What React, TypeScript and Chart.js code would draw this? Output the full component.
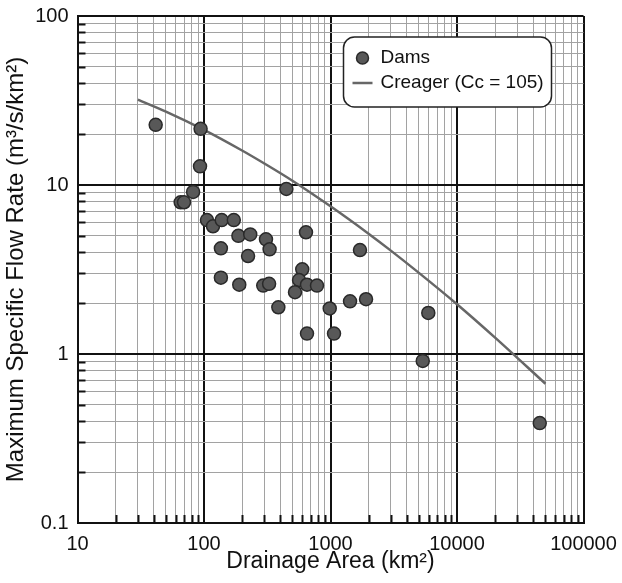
import React, { useEffect, useRef } from 'react';
import { Chart, registerables } from 'chart.js';

Chart.register(...registerables);

// Dams: drainage area (km²) and maximum specific flow rate (m³/s/km²)
const damsArea = [41.5, 94, 93, 82, 65.4, 69.5, 105.6, 117.8, 138, 172, 187, 232, 309, 330, 136, 223, 448, 640, 598, 1710, 136, 190, 294, 327, 564, 652, 782, 524, 387, 986, 1427, 652, 1066, 1910, 5930, 5360, 45100];
const damsRate = [22.7, 21.5, 12.9, 9.1, 7.9, 7.9, 6.2, 5.7, 6.2, 6.2, 5.0, 5.1, 4.77, 4.16, 4.22, 3.8, 9.47, 5.25, 3.17, 4.12, 2.83, 2.57, 2.54, 2.6, 2.74, 2.57, 2.54, 2.32, 1.89, 1.86, 2.05, 1.32, 1.32, 2.11, 1.75, 0.91, 0.39];

// Creager envelope (Cc = 105)
const creagerArea = [30, 50, 100, 200, 300, 500, 1000, 2000, 3000, 5000, 10000, 20000, 50000];
const creagerRate = [32.0, 27.2, 21.2, 16.0, 13.4, 10.6, 7.48, 5.15, 4.09, 3.02, 1.97, 1.25, 0.667];

const xDecades = [10, 100, 1000, 10000, 100000];
const xTickLabels = ['10', '100', '1000', '10000', '100000'];
const yDecades = [0.1, 1, 10, 100];
const yTickLabels = ['0.1', '1', '10', '100'];
const minorSteps = [2, 3, 4, 5, 6, 7, 8, 9];

const legendLabels = ['Dams', 'Creager (Cc = 105)'];
const xTitle = 'Drainage Area (km²)';
const yTitle = 'Maximum Specific Flow Rate (m³/s/km²)';

const FONT = '"Liberation Sans", Arial, Helvetica, sans-serif';
const POINT_FILL = '#585858';
const POINT_BORDER = '#2a2a2a';
const LINE_COLOR = '#676767';

function buildTicks(decades: number[]) {
  const out: { value: number; major: boolean }[] = [];
  decades.forEach((d, i) => {
    out.push({ value: d, major: true });
    if (i < decades.length - 1) {
      minorSteps.forEach((m) => out.push({ value: +(d * m).toPrecision(6), major: false }));
    }
  });
  return out;
}

const overlayPlugin = {
  id: 'overlay',
  beforeDatasetsDraw(chart: any) {
    const { ctx, chartArea: a, scales } = chart;
    ctx.save();
    ctx.strokeStyle = '#111';
    ctx.lineWidth = 2;
    buildTicks(xDecades).filter((t) => !t.major).forEach((t) => {
      const px = Math.round(scales.x.getPixelForValue(t.value)) + 0.5;
      ctx.beginPath();
      ctx.moveTo(px, a.bottom);
      ctx.lineTo(px, a.bottom - 8);
      ctx.stroke();
    });
    buildTicks(yDecades).filter((t) => !t.major).forEach((t) => {
      const py = Math.round(scales.y.getPixelForValue(t.value)) + 0.5;
      ctx.beginPath();
      ctx.moveTo(a.left, py);
      ctx.lineTo(a.left + 8, py);
      ctx.stroke();
    });
    ctx.restore();
  },
  afterDatasetsDraw(chart: any) {
    const { ctx, chartArea: a } = chart;
    const bx = a.left + 266;
    const by = a.top + 21;
    const bw = 208;
    const bh = 70;
    ctx.save();
    ctx.beginPath();
    ctx.roundRect(bx, by, bw, bh, 11);
    ctx.fillStyle = '#fff';
    ctx.fill();
    ctx.lineWidth = 1.5;
    ctx.strokeStyle = '#222';
    ctx.stroke();

    // Dams entry
    ctx.beginPath();
    ctx.arc(bx + 19, by + 21, 6, 0, Math.PI * 2);
    ctx.fillStyle = POINT_FILL;
    ctx.fill();
    ctx.lineWidth = 1.5;
    ctx.strokeStyle = POINT_BORDER;
    ctx.stroke();

    // Creager entry
    ctx.beginPath();
    ctx.moveTo(bx + 9, by + 46);
    ctx.lineTo(bx + 29, by + 46);
    ctx.lineWidth = 2.5;
    ctx.strokeStyle = LINE_COLOR;
    ctx.stroke();

    ctx.fillStyle = '#111';
    ctx.font = `19px ${FONT}`;
    ctx.textBaseline = 'middle';
    ctx.textAlign = 'left';
    ctx.fillText(legendLabels[0], bx + 37, by + 21);
    ctx.fillText(legendLabels[1], bx + 37, by + 46);
    ctx.restore();
  },
};

export default function App() {
  const canvasRef = useRef<HTMLCanvasElement | null>(null);

  useEffect(() => {
    const canvas = canvasRef.current;
    if (!canvas) return;
    const gridColor = (ctx: any) => (ctx.tick && ctx.tick.major ? '#111' : '#a2a2a2');
    const gridWidth = (ctx: any) => (ctx.tick && ctx.tick.major ? 2 : 1);

    const chart = new Chart(canvas, {
      type: 'scatter',
      data: {
        datasets: [
          {
            label: legendLabels[0],
            data: damsArea.map((a, i) => ({ x: a, y: damsRate[i] })),
            backgroundColor: POINT_FILL,
            borderColor: POINT_BORDER,
            borderWidth: 1.5,
            pointRadius: 6.5,
            showLine: false,
          },
          {
            label: legendLabels[1],
            data: creagerArea.map((a, i) => ({ x: a, y: creagerRate[i] })),
            borderColor: LINE_COLOR,
            backgroundColor: LINE_COLOR,
            borderWidth: 2.5,
            pointRadius: 0,
            showLine: true,
            tension: 0.4,
            cubicInterpolationMode: 'monotone',
          } as any,
        ],
      },
      options: {
        responsive: false,
        animation: false,
        devicePixelRatio: 1,
        layout: { padding: { left: 0, right: 38.5, top: 16, bottom: 0 } },
        plugins: {
          legend: { display: false },
          tooltip: { enabled: false },
        },
        scales: {
          x: {
            type: 'logarithmic',
            min: 10,
            max: 100000,
            afterBuildTicks: (scale: any) => {
              scale.ticks = buildTicks(xDecades);
            },
            afterFit: (scale: any) => {
              scale.height = 60;
              scale.paddingLeft = 0;
              scale.paddingRight = 0;
            },
            ticks: {
              autoSkip: false,
              maxRotation: 0,
              padding: 9,
              color: '#111',
              font: { family: FONT, size: 20 },
              callback: (v: any) => {
                const i = xDecades.indexOf(Number(v));
                return i >= 0 ? xTickLabels[i] : '';
              },
            },
            grid: { color: gridColor, lineWidth: gridWidth, drawTicks: false },
            border: { display: true, color: '#111', width: 2 },
            title: {
              display: true,
              text: xTitle,
              color: '#111',
              font: { family: FONT, size: 23, lineHeight: 1.2 },
              padding: { top: 0, bottom: 8 },
            },
          },
          y: {
            type: 'logarithmic',
            min: 0.1,
            max: 100,
            afterBuildTicks: (scale: any) => {
              scale.ticks = buildTicks(yDecades);
            },
            afterFit: (scale: any) => {
              scale.width = 77.5;
              scale.paddingTop = 0;
              scale.paddingBottom = 0;
            },
            ticks: {
              autoSkip: false,
              padding: 9,
              color: '#111',
              font: { family: FONT, size: 20 },
              callback: (v: any) => {
                const i = yDecades.indexOf(Number(v));
                return i >= 0 ? yTickLabels[i] : '';
              },
            },
            grid: { color: gridColor, lineWidth: gridWidth, drawTicks: false },
            border: { display: true, color: '#111', width: 2 },
            title: {
              display: true,
              text: yTitle,
              color: '#111',
              font: { family: FONT, size: 24, lineHeight: 1.2 },
              padding: { top: 2, bottom: 0 },
            },
          },
        },
      },
      plugins: [overlayPlugin],
    });
    return () => chart.destroy();
  }, []);

  return (
    <div style={{ position: 'fixed', left: 0, top: 0, width: 622, height: 583, background: '#fff' }}>
      <canvas ref={canvasRef} width={622} height={583} style={{ display: 'block' }} />
    </div>
  );
}
